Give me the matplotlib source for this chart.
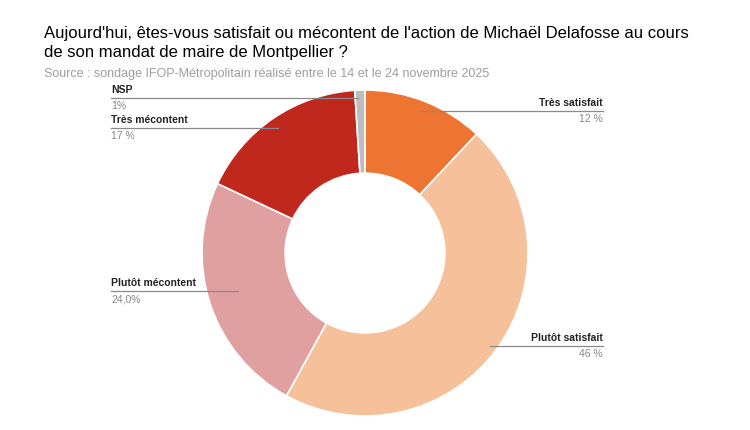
import matplotlib.pyplot as plt

categories = ['Très satisfait', 'Plutôt satisfait', 'Plutôt mécontent', 'Très mécontent', 'NSP']
values = [12, 46, 24, 17, 1]
pct_labels = ['12 %', '46 %', '24,0%', '17 %', '1%']
colors = ['#ee7431', '#f5c09a', '#e0a0a0', '#c0281e', '#bdbdbd']

W, H = 750, 430
fig = plt.figure(figsize=(W / 100, H / 100), dpi=100)
plt.rcParams['font.family'] = ['Liberation Sans', 'DejaVu Sans']

# donut
cx, cy, r = 365, 253, 163
ax = fig.add_axes([(cx - r) / W, (H - cy - r) / H, 2 * r / W, 2 * r / H])
ax.pie(values, colors=colors, startangle=90, counterclock=False,
       wedgeprops=dict(width=0.51, edgecolor='white', linewidth=1.2))
ax.set_aspect('auto')
ax.set_xlim(-1, 1)
ax.set_ylim(-1, 1)

# overlay in pixel coords for title and labels
ov = fig.add_axes([0, 0, 1, 1])
ov.set_xlim(0, W)
ov.set_ylim(H, 0)
ov.axis('off')

ov.text(44, 43, "Aujourd'hui, êtes-vous satisfait ou mécontent de l'action de Michaël Delafosse au cours\nde son mandat de maire de Montpellier ?",
        fontsize=12, va='center', ha='left', linespacing=1.3)
ov.text(44, 74, "Source : sondage IFOP-Métropolitain réalisé entre le 14 et le 24 novembre 2025",
        fontsize=9, color='#9e9e9e', va='center')

# (text x, line y, line other end x, align)
label_pos = [(603, 111, 420, 'right'),
             (603, 346, 490, 'right'),
             (111, 291, 238, 'left'),
             (111, 128, 278, 'left'),
             (111, 98, 358, 'left')]

for name, pct, (tx, ly, ex, ha) in zip(categories, pct_labels, label_pos):
    ov.plot([tx, ex], [ly, ly], color='#8a8a8a', lw=0.9)
    ov.text(tx, ly - 3, name, fontsize=7.5, fontweight='bold', ha=ha, va='bottom', color='#222222')
    ov.text(tx, ly + 3, pct, fontsize=7.5, ha=ha, va='top', color='#888888')

fig.savefig('out.png', dpi=100, facecolor='white')
